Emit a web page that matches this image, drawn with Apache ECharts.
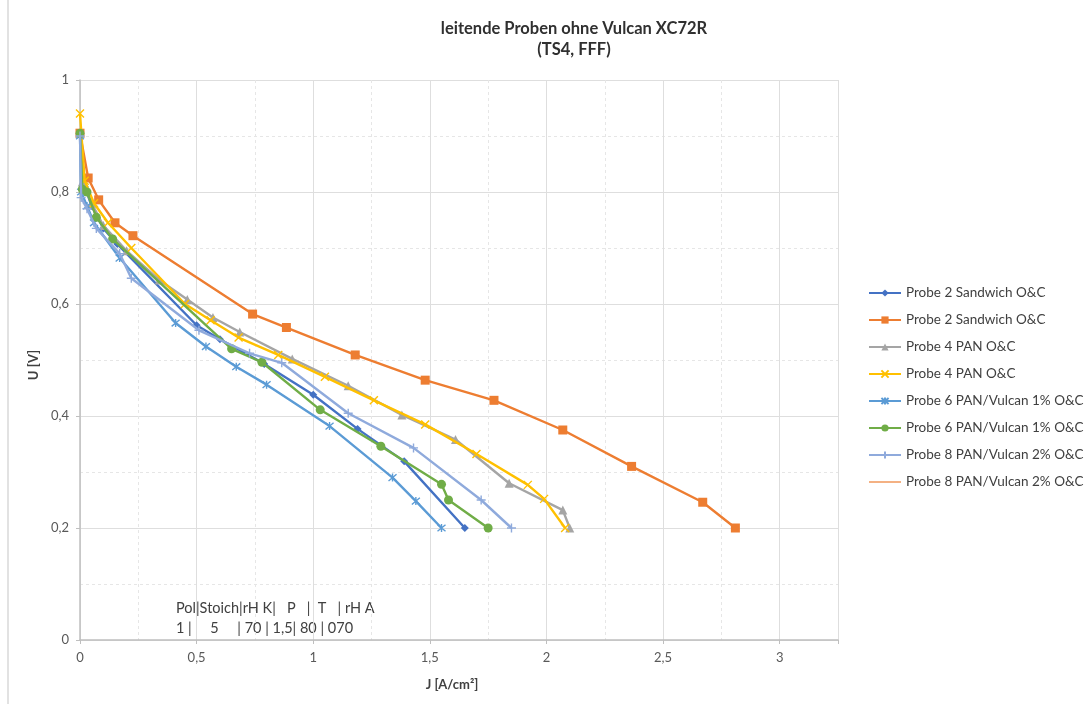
<!DOCTYPE html>
<html><head><meta charset="utf-8">
<script src="https://cdn.jsdelivr.net/npm/echarts@6/dist/echarts.min.js"></script>
<style>html,body{margin:0;padding:0;background:#fff}#c{width:1084px;height:704px}</style>
</head><body><div id="c"></div>
<script>
// ---- data (J [A/cm²], U [V]) ----
const seriesNames = [
  'Probe 2 Sandwich O&C','Probe 2 Sandwich O&C','Probe 4 PAN O&C','Probe 4 PAN O&C',
  'Probe 6 PAN/Vulcan 1% O&C','Probe 6 PAN/Vulcan 1% O&C','Probe 8 PAN/Vulcan 2% O&C','Probe 8 PAN/Vulcan 2% O&C'
];
const probe2a = [[0,0.905],[0.02,0.81],[0.05,0.775],[0.1,0.735],[0.16,0.707],[0.5,0.562],[0.6,0.537],[0.79,0.493],[1.0,0.438],[1.19,0.377],[1.39,0.319],[1.65,0.2]];
const probe2b = [[0,0.905],[0.035,0.825],[0.08,0.786],[0.15,0.745],[0.227,0.722],[0.74,0.582],[0.885,0.558],[1.18,0.509],[1.48,0.464],[1.775,0.428],[2.07,0.375],[2.365,0.31],[2.67,0.246],[2.81,0.2]];
const probe4a = [[0,0.905],[0.01,0.818],[0.05,0.78],[0.1,0.74],[0.2,0.695],[0.34,0.643],[0.46,0.608],[0.57,0.576],[0.685,0.55],[0.91,0.502],[1.15,0.454],[1.38,0.402],[1.61,0.358],[1.84,0.28],[2.07,0.232],[2.1,0.2]];
const probe4b = [[0,0.94],[0.02,0.82],[0.06,0.78],[0.12,0.745],[0.22,0.7],[0.45,0.6],[0.56,0.571],[0.68,0.54],[0.85,0.509],[1.05,0.47],[1.26,0.428],[1.48,0.385],[1.7,0.332],[1.92,0.277],[1.99,0.252],[2.08,0.2]];
const probe6a = [[0,0.9],[0.005,0.8],[0.03,0.775],[0.06,0.745],[0.17,0.682],[0.41,0.566],[0.54,0.524],[0.67,0.488],[0.8,0.456],[1.07,0.382],[1.34,0.29],[1.44,0.248],[1.55,0.2]];
const probe6b = [[0,0.905],[0.01,0.805],[0.03,0.8],[0.07,0.755],[0.14,0.716],[0.65,0.52],[0.78,0.496],[1.03,0.411],[1.29,0.346],[1.55,0.278],[1.58,0.25],[1.75,0.2]];
const probe8a = [[0,0.9],[0.005,0.79],[0.03,0.77],[0.07,0.735],[0.17,0.69],[0.22,0.646],[0.51,0.553],[0.727,0.512],[0.865,0.495],[1.15,0.405],[1.43,0.343],[1.72,0.25],[1.85,0.2]];
const probe8b = [];
const annotationLines = ['Pol|Stoich|rH K|   P   |  T   | rH A', '1 |     5     | 70 | 1,5| 80 | 070'];
// -----------------------------------

const colors = ['#4472C4','#ED7D31','#A5A5A5','#FFC000','#5B9BD5','#70AD47','#8FAADC','#F4B183'];
const xPath = 'path://M0,0L10,10M10,0L0,10';
const starPath = 'path://M0,0L10,10M10,0L0,10M5,-1L5,11';
const plusPath = 'path://M5,0L5,10M0,5L10,5';
const symbols = ['diamond','rect','triangle',xPath,starPath,'circle',plusPath,'none'];
const symSizes = [8,9,9,8,8,9,9,0];
const datas = [probe2a,probe2b,probe4a,probe4b,probe6a,probe6b,probe8a,probe8b];
// unique internal ids for duplicated legend names (zero-width suffix, invisible)
const legendNames = seriesNames.map((n,i)=> n + '\u200B'.repeat(i%2));
const fmt = v => String(+v.toFixed(2)).replace('.',',');
const FONT = 'Lato';

const series = datas.map((d,i)=>{
  const stroke = symbols[i].startsWith('path://');
  return {
    name: legendNames[i], type:'line', data:d,
    symbol: symbols[i], symbolSize: symSizes[i], showSymbol: symbols[i]!=='none',
    lineStyle:{color:colors[i], width: i===7?1.5:2.4},
    itemStyle: stroke ? {color:'rgba(0,0,0,0)', borderColor:colors[i], borderWidth:1.4} : {color:colors[i], borderColor:colors[i], borderWidth:0},
    z: 2+i
  };
});

const chart = echarts.init(document.getElementById('c'), null, {renderer:'canvas'});
chart.setOption({
  animation:false,
  backgroundColor:'#fff',
  color: colors,
  grid:{left:80, top:80, width:758, height:560, containLabel:false},
  xAxis:{
    type:'value', min:0, max:3.25, interval:0.5,
    name:'J [A/cm²]', nameLocation:'middle', nameGap:38,
    nameTextStyle:{fontFamily:FONT, fontWeight:'bold', fontSize:13, color:'#404040', padding:[0,14,0,0]},
    axisLine:{show:true, onZero:false, lineStyle:{color:'#BFBFBF', width:1.5}},
    axisTick:{show:true, length:4, lineStyle:{color:'#BFBFBF'}},
    axisLabel:{formatter: v => (v>3.01?'':fmt(v)), color:'#595959', fontFamily:FONT, fontSize:13, margin:11},
    splitLine:{show:true, lineStyle:{color:'#DEDEDE', width:1}},
    minorTick:{show:false, splitNumber:2},
    minorSplitLine:{show:true, lineStyle:{color:'#E6E6E6', type:[3,3], width:1}}
  },
  yAxis:{
    type:'value', min:0, max:1, interval:0.2,
    name:'U [V]', nameLocation:'middle', nameGap:40, nameRotate:90,
    nameTextStyle:{fontFamily:FONT, fontWeight:'bold', fontSize:13, color:'#404040', padding:[0,10,0,0]},
    axisLine:{show:true, onZero:false, lineStyle:{color:'#BFBFBF', width:1.5}},
    axisTick:{show:true, length:4, lineStyle:{color:'#BFBFBF'}},
    axisLabel:{formatter: fmt, color:'#595959', fontFamily:FONT, fontSize:13, margin:11},
    splitLine:{show:true, lineStyle:{color:'#DEDEDE', width:1}},
    minorTick:{show:false, splitNumber:2},
    minorSplitLine:{show:true, lineStyle:{color:'#E6E6E6', type:[3,3], width:1}}
  },
  legend:{
    orient:'vertical', left:863, top:281, itemWidth:32, itemHeight:9, itemGap:13,
    textStyle:{fontFamily:FONT, fontSize:13.5, color:'#404040', lineHeight:14},
    data: legendNames.map((n,i)=> symbols[i]==='none' ? {name:n, itemStyle:{opacity:0}} : {name:n}),
    selectedMode:false
  },
  graphic:[
    {type:'rect', shape:{x:8, y:-5, width:1100, height:720}, style:{fill:'none', stroke:'#D9D9D9', lineWidth:1.5}, silent:true, z:-10},
    {type:'text', x:574, y:20, style:{text:'leitende Proben ohne Vulcan XC72R', fontFamily:FONT, fontWeight:'bold', fontSize:16.5, fill:'#303030', align:'center'}},
    {type:'text', x:574, y:41, style:{text:'(TS4, FFF)', fontFamily:FONT, fontWeight:'bold', fontSize:16.5, fill:'#303030', align:'center'}},
    {type:'text', x:176, y:598, style:{text:annotationLines.join('\n'), fontFamily:FONT, fontSize:14.5, lineHeight:20, fill:'#404040'}}
  ],
  series: series
});
</script></body></html>
